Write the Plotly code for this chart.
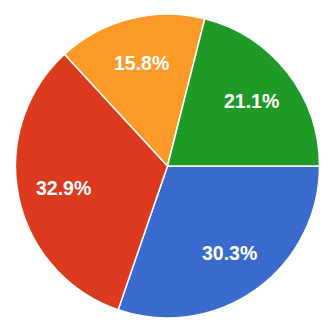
import math
import plotly.graph_objects as go

labels = ["A", "B", "C", "D"]
values = [23, 25, 12, 16]
colors = ["#3a6bcc", "#dc3a1f", "#fb9a29", "#1f9a26"]

# layout geometry
W, H = 332, 328
ML, MR, MT, MB = 15, 12, 14, 10
START = 90  # degrees clockwise from 12 o'clock
LABEL_R = 0.70

fig = go.Figure(go.Pie(
    labels=labels,
    values=values,
    sort=False,
    direction="clockwise",
    rotation=START,
    marker=dict(colors=colors, line=dict(color="white", width=1.5)),
    textinfo="none",
    hoverinfo="label+percent",
))

pw, ph = W - ML - MR, H - MT - MB
R = min(pw, ph) / 2
total = sum(values)
cum = 0
annotations = []
for v in values:
    mid = START + (cum + v / 2) / total * 360
    cum += v
    a = math.radians(mid)
    dx = LABEL_R * R * math.sin(a)
    dy = LABEL_R * R * math.cos(a)
    annotations.append(dict(
        x=0.5 + dx / pw, y=0.5 + dy / ph, xref="paper", yref="paper",
        text=f"{v / total * 100:.1f}%", showarrow=False,
        xanchor="center", yanchor="middle",
        font=dict(family="Liberation Sans, Arial", size=19.5, color="white", weight="bold"),
    ))

fig.update_layout(
    width=W, height=H,
    margin=dict(l=ML, r=MR, t=MT, b=MB),
    showlegend=False,
    paper_bgcolor="white",
    annotations=annotations,
)
fig.write_html("out.html")
